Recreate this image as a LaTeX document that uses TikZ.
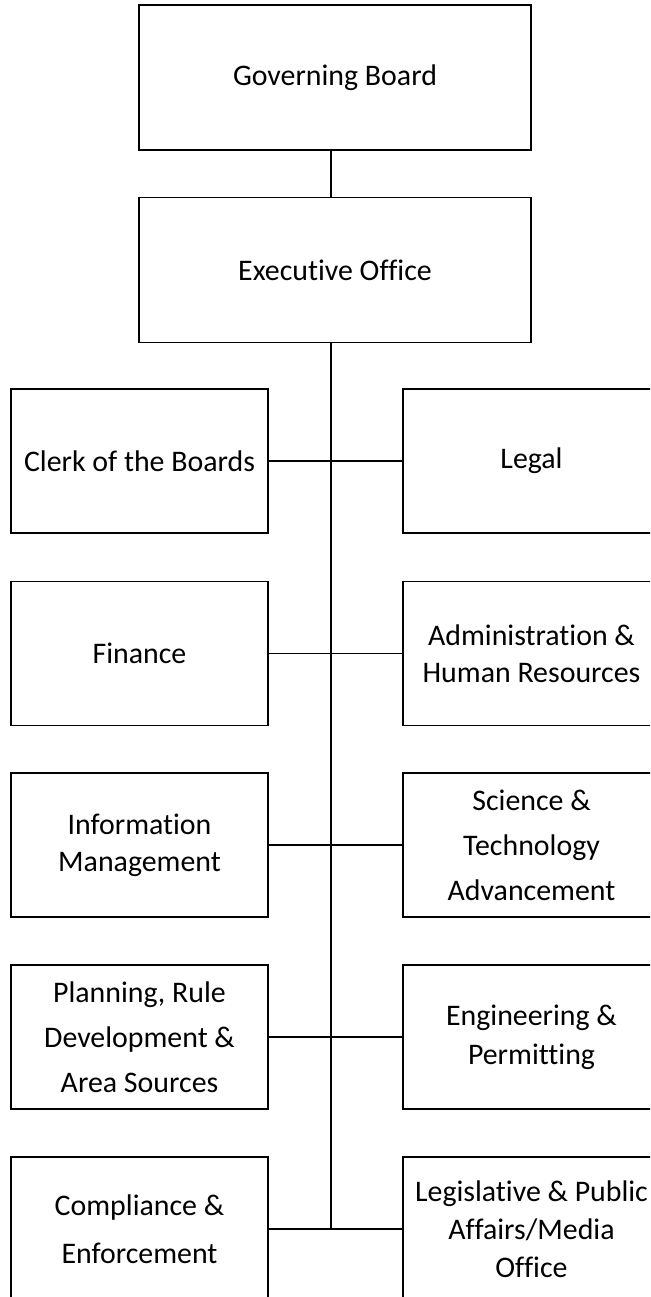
\documentclass[tikz,border=0pt]{standalone}
\usepackage{fontspec}
\setmainfont{Carlito}[Ligatures=NoCommon]
\begin{document}
\begin{tikzpicture}[x=0.02cm,y=-0.02cm,
    font=\fontsize{17}{22.2}\selectfont,
    unit/.style={draw,line width=1.1pt,minimum width=5.14cm,minimum height=2.88cm,
      align=center,inner sep=0pt},
    head/.style={unit,minimum width=7.84cm,minimum height=2.9cm},
    gap/.style={font=\fontsize{17}{#1}\selectfont},
    link/.style={line width=0.9pt}]
  \path[use as bounding box,clip] (0,0) rectangle (650,1297);
  \node[head] (gb) at (335,77.5) {Governing Board};
  \node[head] (eo) at (335,270) {Executive Office};
  \coordinate (sp) at (331,0);
  % left column
  \node[unit] (clk) at (139.5,461) {Clerk of the Boards};
  \node[unit] (fin) at (139.5,653.5) {Finance};
  \node[unit,gap=21pt] (inf) at (139.5,845) {Information\\Management};
  \node[unit,gap=25.6pt] (pln) at (139.5,1037) {Planning, Rule\\Development \&\\Area Sources};
  \node[unit,gap=27.3pt] (cmp) at (139.5,1229) {Compliance \&\\Enforcement};
  % right column
  \node[unit] (lgl) at (531.5,461) {Legal};
  \node[unit,gap=21pt] (adm) at (531.5,653.5) {Administration \&\\Human Resources};
  \node[unit,gap=25.6pt] (sci) at (531.5,845) {Science \&\\Technology\\Advancement};
  \node[unit,gap=22.2pt] (eng) at (531.5,1037) {Engineering \&\\Permitting};
  \node[unit,gap=21.6pt] (lpa) at (531.5,1229) {Legislative \& Public\\Affairs/Media\\Office};
  \draw[link] (gb.south -| sp) -- (eo.north -| sp);
  \draw[link] (eo.south -| sp) -- (sp |- cmp.east);
  \foreach \l/\r in {clk/lgl,fin/adm,inf/sci,pln/eng,cmp/lpa}
    \draw[link] (\l.east) -- (\r.west);
\end{tikzpicture}
\end{document}
